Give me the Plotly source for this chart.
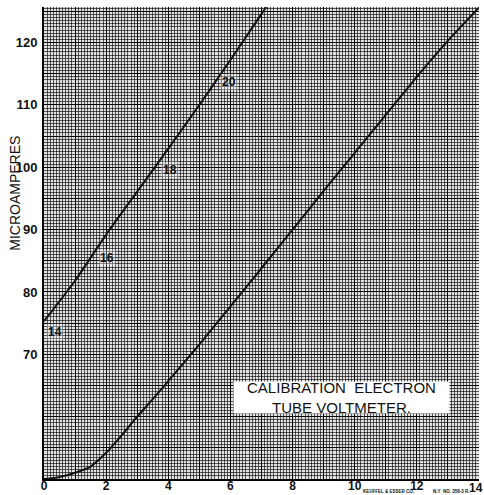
import plotly.graph_objects as go

# Lower calibration curve (voltmeter scale 0-14)
volts_low = [0, 0.5, 1, 1.5, 2, 2.5, 3, 3.5, 4, 5, 6, 7, 8, 9, 10, 11, 12, 13, 14]
micro_low = [50.0, 50.3, 51.0, 52.0, 54.2, 57.0, 60.0, 62.8, 65.7, 71.6, 77.7, 83.8,
             90.0, 96.2, 102.3, 108.4, 114.5, 120.3, 125.6]

# Upper calibration curve (continuation, scale 14-21 plotted on 0-7)
volts_up = [0, 1, 2, 3, 4, 5, 6, 7, 7.15]
micro_up = [75.3, 81.8, 89.2, 96.1, 103.0, 110.0, 117.2, 124.6, 125.7]

# Scale labels written along the upper curve
up_label_text = ["14", "16", "18", "20"]
up_label_x = [0.35, 2.03, 4.06, 5.95]
up_label_y = [73.5, 85.4, 99.5, 113.6]

# Axis tick labels
x_tickvals = list(range(0, 15))
x_ticktext = [str(v) if (v % 2 == 0 and v < 14) else "" for v in x_tickvals]
x_last_label = "14"
y_tickvals = list(range(50, 126, 5))
y_ticktext = [str(v) if (v % 10 == 0 and 70 <= v <= 120) else "" for v in y_tickvals]

# Maker's imprint along the bottom edge, in pieces between the tick labels
imprint_text = ["KEUFFEL & ESSER CO.", "N.Y", "NO. 358-3 R."]
imprint_x = [0.793, 0.903, 0.949]

ink = "#111111"
font_face = "Liberation Sans"

fig = go.Figure()
fig.add_trace(go.Scatter(x=volts_low, y=micro_low, mode="lines",
                         line=dict(color=ink, width=2, shape="spline", smoothing=0.6),
                         hoverinfo="skip"))
fig.add_trace(go.Scatter(x=volts_up, y=micro_up, mode="lines",
                         line=dict(color=ink, width=2, shape="spline", smoothing=0.6),
                         hoverinfo="skip"))

for t, xv, yv in zip(up_label_text, up_label_x, up_label_y):
    fig.add_annotation(x=xv, y=yv, text=f"<b>{t}</b>", showarrow=False,
                       font=dict(size=12, color=ink, family=font_face),
                       bgcolor="rgba(255,255,255,0.3)")

fig.add_annotation(xref="paper", yref="paper", x=0.685, y=0.172,
                   xanchor="center", yanchor="middle",
                   text="CALIBRATION  ELECTRON<br>TUBE VOLTMETER.",
                   showarrow=False, align="center",
                   font=dict(size=15, color=ink, family=font_face),
                   bgcolor="white", borderpad=0, width=215, height=31)

fig.add_annotation(xref="paper", yref="paper", x=-0.066, y=0.605,
                   xanchor="center", yanchor="middle",
                   text="MICROAMPERES", textangle=-90, showarrow=False,
                   font=dict(size=14, color=ink, family=font_face))

# Last x label sits against the right edge of the page
fig.add_annotation(xref="paper", yref="paper", x=1.011, y=-0.003, xanchor="right",
                   yanchor="top", text=f"<b>{x_last_label}</b>", showarrow=False,
                   borderpad=0, font=dict(size=12, color=ink, family=font_face))

for t, xv in zip(imprint_text, imprint_x):
    fig.add_annotation(xref="paper", yref="paper", x=xv, y=-0.02, yanchor="top",
                       xanchor="center", text=f"<b>{t}</b>", showarrow=False,
                       borderpad=0, font=dict(size=4.5, color=ink, family=font_face))

fig.update_xaxes(range=[0, 14], tickmode="array", tickvals=x_tickvals, ticktext=x_ticktext,
                 showgrid=True, gridcolor="#000000", gridwidth=1.4,
                 minor=dict(dtick=0.1, showgrid=True, gridcolor="rgba(0,0,0,0.62)", gridwidth=1),
                 showline=True, linecolor="#000000", linewidth=2, automargin=False,
                 zeroline=False, ticks="", ticklabelstandoff=-5,
                 tickfont=dict(size=12, color=ink, family=font_face, weight="bold"))
fig.update_yaxes(range=[50, 125.7], tickmode="array", tickvals=y_tickvals, ticktext=y_ticktext,
                 showgrid=True, gridcolor="#000000", gridwidth=1.4,
                 minor=dict(dtick=0.5, showgrid=True, gridcolor="rgba(0,0,0,0.62)", gridwidth=1),
                 showline=True, linecolor="#000000", linewidth=2, automargin=False,
                 zeroline=False, ticks="", ticklabelstandoff=2,
                 tickfont=dict(size=13, color=ink, family=font_face, weight="bold"))

fig.update_layout(width=484, height=495, showlegend=False,
                  margin=dict(l=44, r=5, t=7, b=16),
                  paper_bgcolor="white", plot_bgcolor="#e2e2e2")

fig.write_html("out.html")
